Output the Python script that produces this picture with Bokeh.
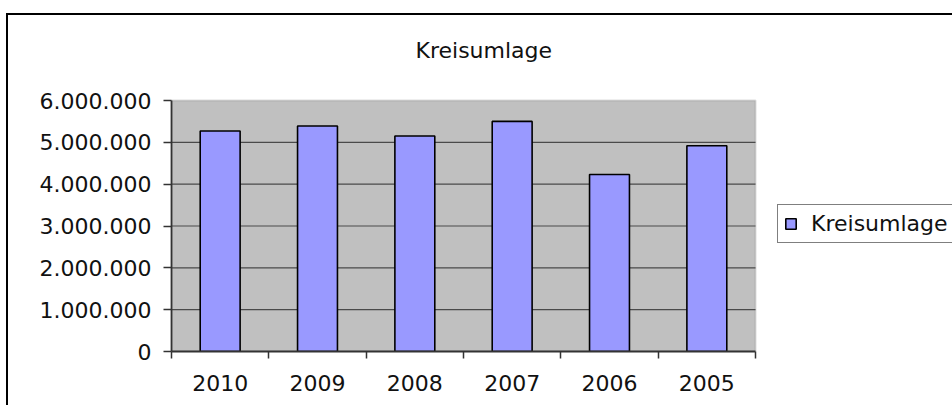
from bokeh.plotting import figure
from bokeh.models import (ColumnDataSource, Range1d, FixedTicker, Label,
                          Legend, LegendItem, BoxAnnotation)
from bokeh.embed import file_html
from bokeh.resources import INLINE

# ---- data ----
title_text = "Kreisumlage"
series_name = "Kreisumlage"
years = ["2010", "2009", "2008", "2007", "2006", "2005"]
values = [5270000, 5390000, 5150000, 5500000, 4230000, 4920000]
y_ticks = [0, 1000000, 2000000, 3000000, 4000000, 5000000, 6000000]
y_tick_labels = ["0", "1.000.000", "2.000.000", "3.000.000",
                 "4.000.000", "5.000.000", "6.000.000"]

FONT = "DejaVu Sans"
n = len(years)
centers = [i + 0.5 for i in range(n)]
bounds = list(range(n + 1))
y_min, y_max = y_ticks[0], y_ticks[-1]

# layout (pixels)
PLOT_W, PLOT_H = 584, 251          # grey plot area
FRAME_W, FRAME_H = 781, 336        # frame also holds title and legend

src = ColumnDataSource(data=dict(x=centers, top=values, year=years))
grid_src = ColumnDataSource(data=dict(y=y_ticks[1:-1]))

p = figure(frame_width=FRAME_W, frame_height=FRAME_H,
           output_backend="svg", toolbar_location=None,
           x_range=Range1d(0, n * FRAME_W / PLOT_W),
           y_range=Range1d(y_min, y_min + (y_max - y_min) * FRAME_H / PLOT_H),
           min_border_left=163, min_border_right=0,
           min_border_top=0, min_border_bottom=54)
p.styles = {"border-left": "2px solid black", "border-top": "2px solid black",
            "margin-top": "13px", "margin-left": "6px"}

p.background_fill_color = "white"
p.border_fill_color = "white"
p.outline_line_color = None
p.xgrid.visible = False
p.ygrid.visible = False

# grey plot area
p.add_layout(BoxAnnotation(left=0, right=n, bottom=y_min, top=y_max,
                           fill_color="#C0C0C0", fill_alpha=1,
                           line_color="#8a8a8a", line_width=2,
                           level="underlay"))

# gridlines
p.segment(x0=0, x1=n, y0="y", y1="y", source=grid_src,
          line_color="#4a4a4a", line_width=1.2)

r = p.vbar(x="x", top="top", width=0.41, bottom=0, source=src,
           fill_color="#9999FF", line_color="black", line_width=1.6)

# x axis
xa = p.xaxis[0]
xa.bounds = (0, n)
xa.ticker = FixedTicker(ticks=centers, minor_ticks=bounds)
xa.major_label_overrides = {c: y for c, y in zip(centers, years)}
xa.major_tick_out = 0
xa.major_tick_in = 0
xa.minor_tick_out = 7
xa.minor_tick_in = 0
xa.minor_tick_line_color = "#333333"
xa.minor_tick_line_width = 1.5
xa.axis_line_color = "#333333"
xa.axis_line_width = 1.8
xa.major_label_standoff = 16
xa.major_label_text_font = FONT
xa.major_label_text_font_size = "22px"
xa.major_label_text_color = "#111111"

# y axis
ya = p.yaxis[0]
ya.bounds = (y_min, y_max)
ya.ticker = FixedTicker(ticks=y_ticks, minor_ticks=[])
ya.major_label_overrides = {t: l for t, l in zip(y_ticks, y_tick_labels)}
ya.major_tick_out = 8
ya.major_tick_in = 0
ya.major_tick_line_color = "#333333"
ya.major_tick_line_width = 1.5
ya.minor_tick_out = 0
ya.minor_tick_in = 0
ya.axis_line_color = "#333333"
ya.axis_line_width = 1.8
ya.major_label_standoff = 12
ya.major_label_text_font = FONT
ya.major_label_text_font_size = "22px"
ya.major_label_text_color = "#111111"

# title
p.add_layout(Label(x=244, y=301, x_units="screen", y_units="screen",
                   text=title_text, text_align="left",
                   text_baseline="alphabetic", text_font=FONT,
                   text_font_size="22px", text_color="#111111"))

# legend
legend = Legend(items=[LegendItem(label=series_name, renderers=[r])],
                location=(606, 108), orientation="vertical",
                padding=6, margin=0, spacing=0,
                glyph_width=13, glyph_height=13, label_standoff=14,
                label_width=170,
                label_text_font=FONT, label_text_font_size="22px",
                label_text_color="#111111",
                border_line_color="black", border_line_width=1.2,
                background_fill_color="white", background_fill_alpha=1)
p.add_layout(legend, "center")

open("out.html", "w").write(file_html(p, INLINE))
